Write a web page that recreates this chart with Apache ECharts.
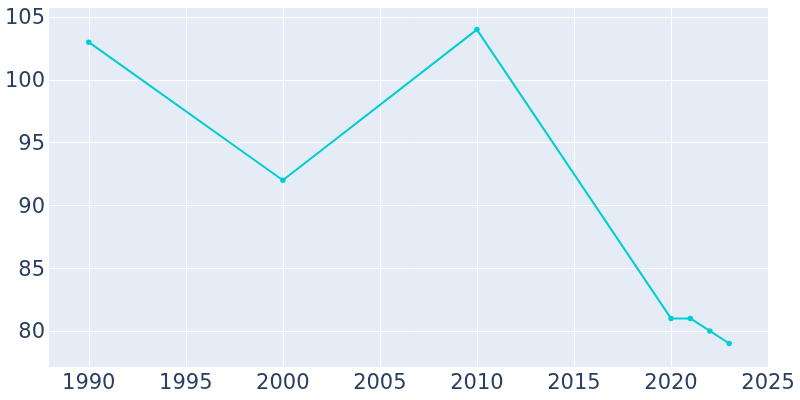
<!DOCTYPE html>
<html><head><meta charset="utf-8">
<script src="https://cdn.jsdelivr.net/npm/echarts@6/dist/echarts.min.js"></script>
<style>html,body{margin:0;padding:0;background:#fff}#c{width:800px;height:400px}</style>
</head><body><div id="c"></div>
<script>
const years = [1990, 2000, 2010, 2020, 2021, 2022, 2023];
const population = [103, 92, 104, 81, 81, 80, 79];

const chart = echarts.init(document.getElementById('c'), null, {renderer: 'canvas'});
const txt = {color: '#2a3f5f', fontSize: 21, fontFamily: 'DejaVu Sans'};
chart.setOption({
  animation: false,
  backgroundColor: '#fff',
  grid: {left: 48, right: 31, top: 7, bottom: 33, backgroundColor: '#E5ECF6', show: true, borderWidth: 0},
  xAxis: {
    type: 'value', min: 1987.9, max: 2025.05, splitNumber: 7, minInterval: 5, maxInterval: 5,
    axisLine: {show: false}, axisTick: {show: false},
    axisLabel: Object.assign({margin: 6, showMinLabel: false, showMaxLabel: true,
      formatter: v => (Math.abs(v % 5) < 1e-6 ? String(v) : '')}, txt),
    splitLine: {show: true, lineStyle: {color: '#fff', width: 1}}
  },
  yAxis: {
    type: 'value', min: 77.13, max: 105.8, splitNumber: 6, minInterval: 5, maxInterval: 5,
    axisLine: {show: false}, axisTick: {show: false},
    axisLabel: Object.assign({margin: 3, showMinLabel: false, showMaxLabel: false,
      formatter: v => (Math.abs(v % 5) < 1e-6 ? '{a|' + v + '}' : ''),
      rich: {a: Object.assign({padding: [4, 0, 0, 0]}, txt)}}, txt),
    splitLine: {show: true, lineStyle: {color: '#fff', width: 1}}
  },
  series: [{
    type: 'line',
    data: years.map((y, i) => [y, population[i]]),
    symbol: 'circle', symbolSize: 5.5,
    lineStyle: {color: '#00CED1', width: 2},
    itemStyle: {color: '#00CED1'}
  }]
});
</script></body></html>
